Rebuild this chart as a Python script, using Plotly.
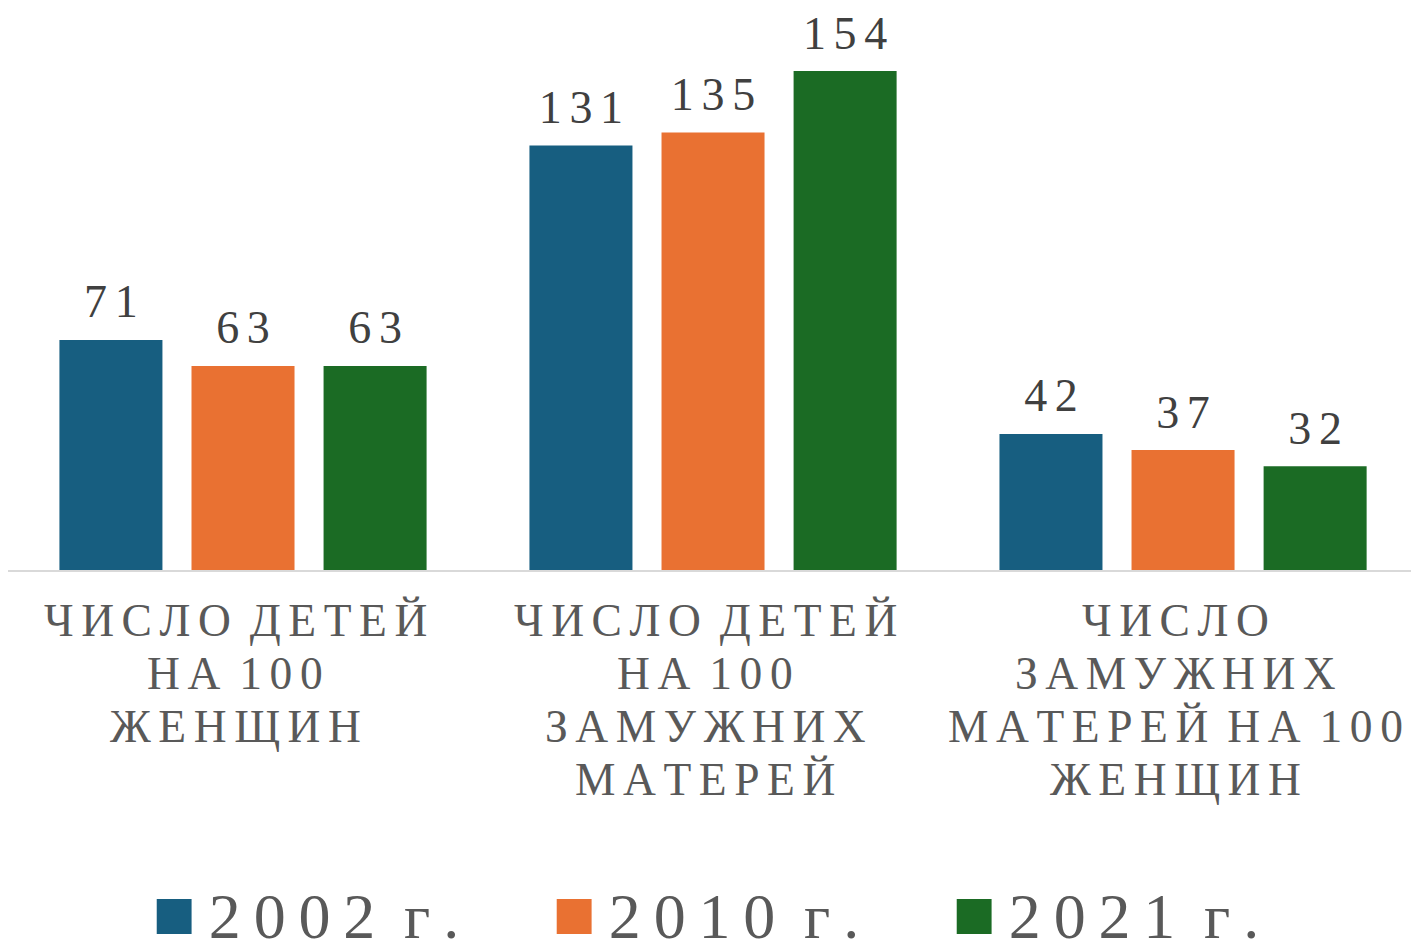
import plotly.graph_objects as go

categories = ["ЧИСЛО ДЕТЕЙ НА 100 ЖЕНЩИН",
              "ЧИСЛО ДЕТЕЙ НА 100 ЗАМУЖНИХ МАТЕРЕЙ",
              "ЧИСЛО ЗАМУЖНИХ МАТЕРЕЙ НА 100 ЖЕНЩИН"]
category_lines = [["ЧИСЛО ДЕТЕЙ", "НА 100", "ЖЕНЩИН"],
                  ["ЧИСЛО ДЕТЕЙ", "НА 100", "ЗАМУЖНИХ", "МАТЕРЕЙ"],
                  ["ЧИСЛО", "ЗАМУЖНИХ", "МАТЕРЕЙ НА 100", "ЖЕНЩИН"]]
series_names = ["2002 г.", "2010 г.", "2021 г."]
values_2002 = [71, 131, 42]
values_2010 = [63, 135, 37]
values_2021 = [63, 154, 32]
colors = ["#175E80", "#E97132", "#1B6B24"]

FONT = "Liberation Serif"
SP = "\u2006"


def spaced(s, sep=SP):
    # letter-spaced text: spacing between letters, one spacing around word gaps
    words = s.split(" ")
    return (" " + sep).join(sep.join(w) for w in words)


fig = go.Figure()
for i, (name, vals, col) in enumerate(zip(series_names, [values_2002, values_2010, values_2021], colors)):
    og = f"g{i}"
    fig.add_trace(go.Bar(
        x=categories, y=vals, name=name, marker=dict(color=col, line=dict(width=0)),
        offsetgroup=og, showlegend=False, legendgroup=name,
    ))
    # value labels, aligned with the bars through the grouped scatter mode
    fig.add_trace(go.Scatter(
        x=categories, y=vals, mode="markers+text", offsetgroup=og,
        marker=dict(size=16, color="rgba(0,0,0,0)", line=dict(width=0)),
        text=[spaced(str(v)) for v in vals], textposition="top center",
        textfont=dict(family=FONT, size=46, color="#404040"),
        cliponaxis=False, showlegend=False, legendgroup=name, hoverinfo="skip",
    ))
    # legend entry
    fig.add_trace(go.Scatter(
        x=[None], y=[None], mode="markers", offsetgroup=og,
        marker=dict(size=1, color="rgba(0,0,0,0)", line=dict(width=0)),
        name=f"<span style='color:{col};font-size:72px'>■</span>\u2009" + spaced(name, "\u2009"),
        legendgroup=name, showlegend=True, hoverinfo="skip",
    ))

annotations = []
for cat, lines in zip(categories, category_lines):
    for k, line in enumerate(lines):
        annotations.append(dict(
            x=cat, xref="x", y=0, yref="paper", yanchor="middle", xanchor="center",
            xshift=-8, yshift=-(50 + 53.3 * k), showarrow=False, text=spaced(line),
            font=dict(family=FONT, size=45.5, color="#595959"),
        ))

plot_h = 550
fig.update_layout(
    width=1411, height=944,
    margin=dict(l=8, r=0, t=20, b=944 - 20 - plot_h, autoexpand=False),
    paper_bgcolor="white", plot_bgcolor="white",
    barmode="group", bargap=0.157, bargroupgap=0.22,
    scattermode="group", scattergap=0.157,
    xaxis=dict(range=[-0.5, 2.485], showticklabels=False, showline=True,
               linecolor="#D9D9D9", linewidth=1.5, ticks="", showgrid=False, fixedrange=True),
    yaxis=dict(range=[0, plot_h / 3.24], visible=False, showgrid=False, fixedrange=True),
    legend=dict(orientation="h", x=0.505, xanchor="center", xref="container",
                y=1 - 913 / 944, yanchor="middle", yref="container",
                font=dict(family=FONT, size=64, color="#595959"),
                itemwidth=30, entrywidth=355, entrywidthmode="pixels",
                bgcolor="rgba(0,0,0,0)"),
    annotations=annotations,
    showlegend=True,
)
fig.write_html("out.html", config={"displayModeBar": False},
               post_script="document.body.style.margin='0';")
